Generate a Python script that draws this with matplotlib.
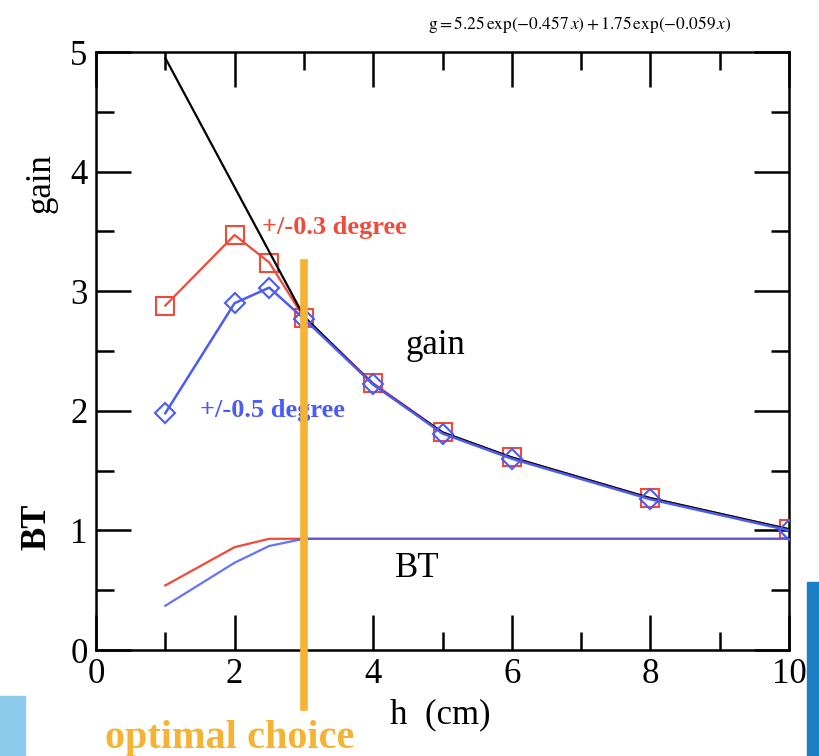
import matplotlib.pyplot as plt
from matplotlib.patches import Rectangle

# gain vs h, two angular tolerances
h = [1, 2, 2.5, 3, 4, 5, 6, 8, 10]
gain_03 = [2.88, 3.47, 3.24, 2.78, 2.23, 1.82, 1.61, 1.27, 1.01]
gain_05 = [1.98, 2.90, 3.03, 2.77, 2.22, 1.81, 1.60, 1.26, 1.00]

# fitted curve (black)
h_fit = [1, 3, 4, 5, 6, 8, 10]
gain_fit = [4.95, 2.79, 2.22, 1.82, 1.61, 1.27, 1.01]

# BT curves
bt_03 = [0.54, 0.86, 0.93, 0.93, 0.93, 0.93, 0.93, 0.93, 0.93]
bt_05 = [0.37, 0.73, 0.87, 0.93, 0.93, 0.93, 0.93, 0.93, 0.93]

h_opt = 3

red = "#f04a3a"
blue = "#4a5cf5"
orange = "#f5b335"

plt.rcParams["font.family"] = ["Liberation Serif", "DejaVu Serif"]
plt.rcParams["mathtext.fontset"] = "stix"

fig = plt.figure(figsize=(8.19, 7.56), dpi=100)
ax = fig.add_axes([0.1172, 0.1402, 0.8462, 0.791])

ax.plot(h_fit, gain_fit, color="black", lw=1.6, zorder=3)
ax.plot(h, gain_03, color=red, lw=1.6, marker="s", ms=13, mfc="none", mec=red, mew=1.5, zorder=2)
ax.plot(h, gain_05, color=blue, lw=1.8, marker="D", ms=10, mfc="none", mec=blue, mew=1.5, zorder=4)
ax.plot(h, bt_03, color=red, lw=1.6, zorder=2)
ax.plot(h, bt_05, color=blue, lw=1.6, alpha=0.85, zorder=2)

# optimal choice marker, runs below the axis
ax.plot([h_opt, h_opt], [3.24, -0.48], color=orange, lw=5.5, clip_on=False, zorder=5)

ax.set_xlim(0, 10)
ax.set_ylim(0, 5)
ax.set_xticks(range(0, 11, 2))
ax.set_xticks(range(1, 10, 2), minor=True)
ax.set_yticks(range(0, 6))
ax.set_yticks([0.5, 1.5, 2.5, 3.5, 4.5], minor=True)
ax.tick_params(which="both", direction="in", top=True, right=True, width=1.8, labelsize=25, pad=6)
ax.tick_params(which="major", length=25)
ax.tick_params(which="minor", length=13)
for s in ax.spines.values():
    s.set_linewidth(1.8)

ax.text(4.9, 2.55, "gain", fontsize=25, ha="center", va="center")
ax.text(4.63, 0.68, "BT", fontsize=25, ha="center", va="center")
ax.text(2.4, 3.53, "+/-0.3 degree", fontsize=19, fontweight="bold", color=red, va="center")
ax.text(1.5, 2.0, "+/-0.5 degree", fontsize=19, fontweight="bold", color=blue, va="center")

fig.text(0.05, 0.758, "gain", fontsize=25, rotation=90, ha="center", va="center")
fig.text(0.045, 0.303, "BT", fontsize=25, fontweight="bold", rotation=90, ha="center", va="center")
fig.text(0.537, 0.054, "h  (cm)", fontsize=25, ha="center", va="center")
fig.text(0.128, 0.023, "optimal choice", fontsize=29, fontweight="bold", color=orange, ha="left", va="center")
fig.text(0.708, 0.968, r"$\mathrm{g} = 5.25\,\mathrm{exp}(-0.457\,x) + 1.75\,\mathrm{exp}(-0.059\,x)$",
         fontsize=12.5, ha="center", va="center")

# slide background decoration
fig.patches.append(Rectangle((0.985, 0.0), 0.015, 0.23, transform=fig.transFigure, color="#1b7fc4", zorder=0))
fig.patches.append(Rectangle((0.0, 0.0), 0.03, 0.08, transform=fig.transFigure, color="#8ccbec", zorder=0))

fig.savefig("out.png", dpi=100)
